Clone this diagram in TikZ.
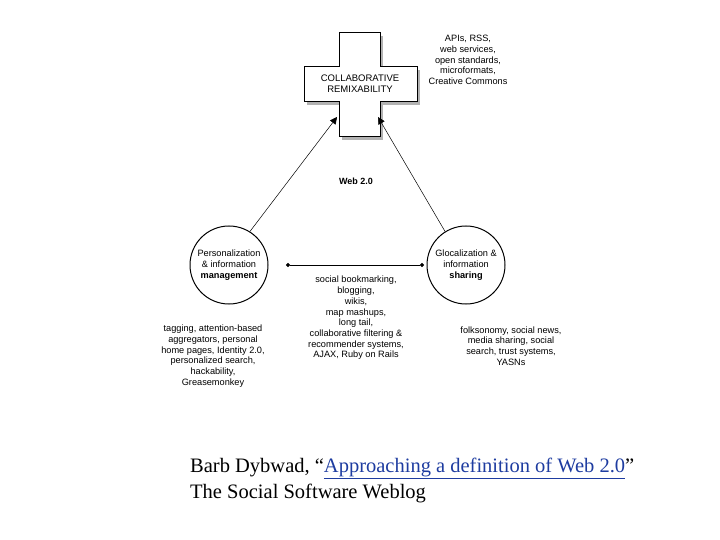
\documentclass[tikz,border=0pt]{standalone}
\usepackage{fontspec}
\setmainfont{Liberation Serif}
\newfontfamily\dsans{Liberation Sans}
\usetikzlibrary{arrows.meta}
\definecolor{linkblue}{RGB}{30,60,160}
\begin{document}
\begin{tikzpicture}[x=1pt,y=-1pt,
  lbl/.style={font=\dsans\fontsize{9.2}{10.7}\selectfont,align=center,inner sep=0},
  circ/.style={draw,circle,line width=1,minimum size=78,fill=white,lbl},
  arr/.style={-{Triangle[length=7,width=7]},line width=0.5}]
\useasboundingbox (0,0) rectangle (720,540);
% cross shadow
\fill[gray!60] (342,36) rectangle (383,140);
\fill[gray!60] (307,70) rectangle (420,105);
\draw[line width=1,fill=white] (339,33) -- (380,33) -- (380,67) -- (417,67) -- (417,102) -- (380,102) -- (380,137) -- (339,137) -- (339,102) -- (304,102) -- (304,67) -- (339,67) -- cycle;
\node[lbl,font=\dsans\fontsize{9.5}{11}\selectfont] (cr) at (360,84) {COLLABORATIVE\\REMIXABILITY};
\coordinate (tl) at (337,117);
\coordinate (tr) at (378,117);
\node[circ] (pm) at (229,265) {Personalization\\\& information\\\textbf{management}};
\node[circ] (gs) at (466,265) {Glocalization \&\\information\\\textbf{sharing}};
\draw[arr] (pm.58) -- (tl);
\draw[arr] (gs.122) -- (tr);
\draw[{Circle[length=4]}-{Circle[length=4]},line width=0.6] (286,265) coordinate (a) -- (424,265) coordinate (b);
\node[lbl,font=\dsans\bfseries\fontsize{9}{10}\selectfont] (w) at (356,181) {Web 2.0};
\node[lbl] (t1) at (468,60) {APIs, RSS,\\web services,\\open standards,\\microformats,\\Creative Commons};
\node[lbl] (t2) at (356,318) {social bookmarking,\\blogging,\\wikis,\\map mashups,\\long tail,\\collaborative filtering \&\\recommender systems,\\AJAX, Ruby on Rails};
\node[lbl] (t3) at (213,356) {tagging, attention-based\\aggregators, personal\\home pages, Identity 2.0,\\personalized search,\\hackability,\\Greasemonkey};
\node[lbl] (t4) at (511,346) {folksonomy, social news,\\media sharing, social\\search, trust systems,\\YASNs};
\node[anchor=west,font=\fontsize{20.5}{26}\selectfont,align=left,inner sep=0] (cap) at (190,480) {Barb Dybwad, “{\color{linkblue}\underline{Approaching a definition of Web 2.0}}”\\The Social Software Weblog};
\end{tikzpicture}
\end{document}
